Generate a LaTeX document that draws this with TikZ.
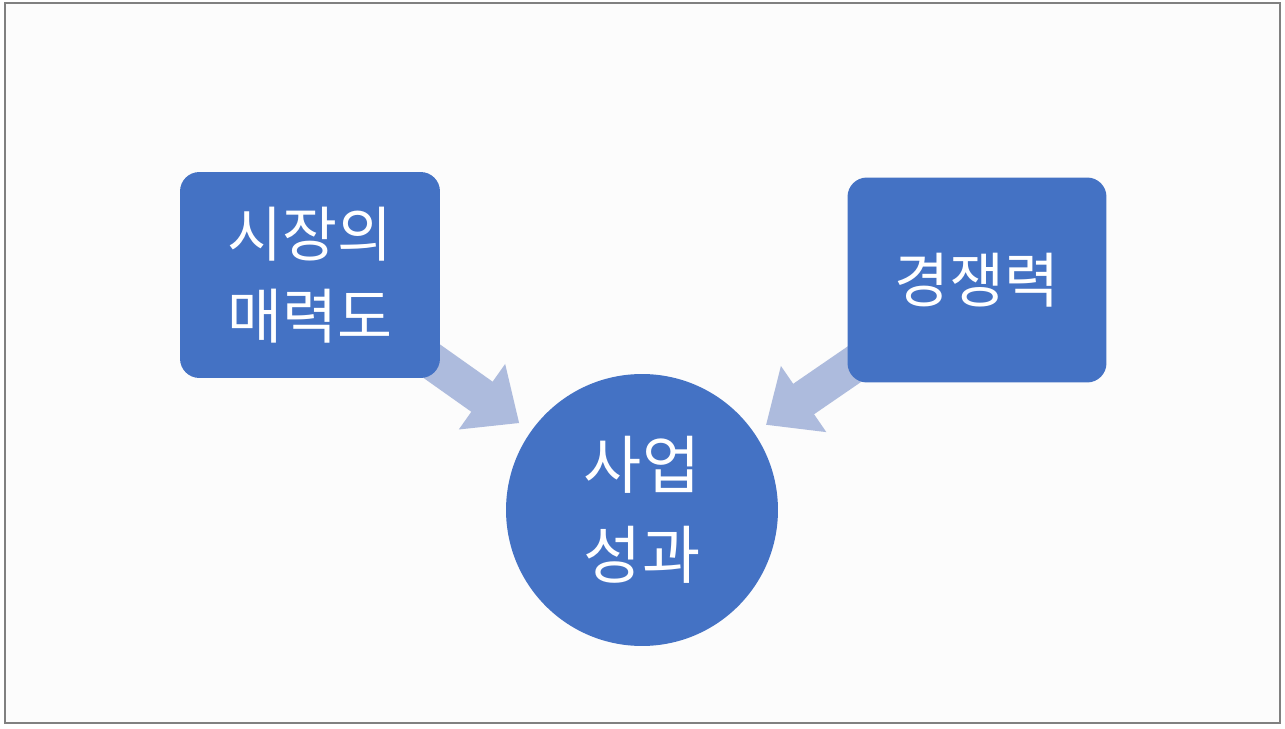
\documentclass[tikz,border=0pt]{standalone}
\usepackage{fontspec}
\newfontfamily\kr{Noto Sans CJK KR}
\usetikzlibrary{arrows.meta}
\definecolor{boxblue}{RGB}{68,114,196}
\definecolor{arrowblue}{RGB}{173,187,221}
\definecolor{slidebg}{RGB}{252,252,252}
\pgfdeclarelayer{slide}
\pgfdeclarelayer{links}
\pgfsetlayers{slide,links,main}

\begin{document}
\begin{tikzpicture}[x=0.02cm,y=-0.02cm,
  factor/.style={minimum height=4.12cm,minimum width=5.2cm,fill=boxblue,rounded corners=11pt,text=white,align=center,font=\kr\fontsize{34}{47}\selectfont,inner sep=0pt},
  result/.style={circle,minimum size=5.44cm,fill=boxblue,text=white,align=center,font=\kr\fontsize{36}{51}\selectfont,inner sep=0pt},
  fatarrow/.style={draw=arrowblue,line width=21pt,-{Triangle[width=44pt,length=26pt]},shorten >=8pt}]
\useasboundingbox (0,0) rectangle (1285,729);
\begin{pgfonlayer}{slide}
\draw[fill=slidebg,draw=gray,line width=1.2pt] (5,3) rectangle (1280,723);
\end{pgfonlayer}
\draw node[factor] (mkt) at (310,275) {시장의\\매력도};
\draw node[factor,minimum width=5.18cm,minimum height=4.1cm] (comp) at (977,280) {경쟁력};
\draw node[result] (perf) at (642,510) {사업\\성과};
\begin{pgfonlayer}{links}
\draw[fatarrow] (mkt.center) -- (perf);
\draw[fatarrow] (comp.center) -- (perf);
\end{pgfonlayer}
\end{tikzpicture}
\end{document}
